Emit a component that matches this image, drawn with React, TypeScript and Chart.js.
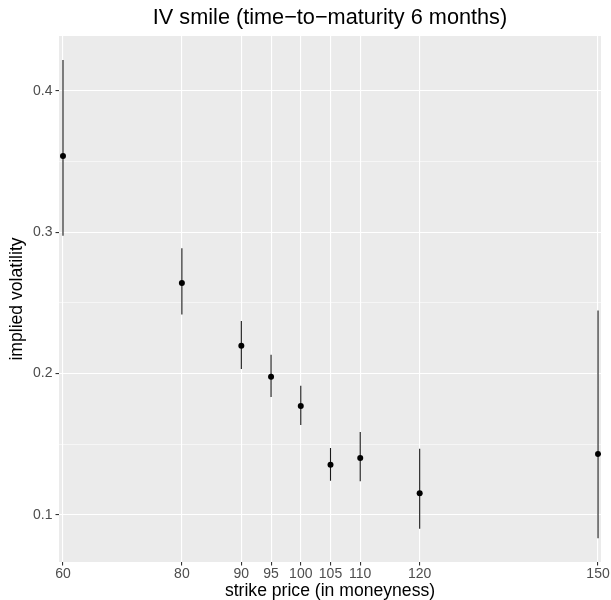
import React, { useEffect, useRef } from "react";
import { Chart, registerables } from "chart.js";

Chart.register(...registerables);

// Strikes (in moneyness) and the implied-volatility estimates with their intervals
const strikes = [60, 80, 90, 95, 100, 105, 110, 120, 150];
const ivMid = [0.354, 0.264, 0.2196, 0.1977, 0.1769, 0.1354, 0.1401, 0.1151, 0.143];
const ivLow = [0.2974, 0.2418, 0.2031, 0.1833, 0.1635, 0.1241, 0.1237, 0.0901, 0.0833];
const ivHigh = [0.4219, 0.2887, 0.2371, 0.2132, 0.1913, 0.1472, 0.1585, 0.1467, 0.2446];

const xTicks = [60, 80, 90, 95, 100, 105, 110, 120, 150];
const yTicks = [0.1, 0.2, 0.3, 0.4];
const yMinorTicks = [0.15, 0.25, 0.35];

const FONT = "'Liberation Sans', Arial, Helvetica, sans-serif";

const isMinor = (v: number) => yMinorTicks.some((m) => Math.abs(m - v) < 1e-9);

// Grey ggplot-style panel behind the grid
const panelBackground = {
  id: "panelBackground",
  beforeDraw(chart: any) {
    const { ctx, chartArea, width, height } = chart;
    ctx.save();
    ctx.fillStyle = "#ffffff";
    ctx.fillRect(0, 0, width, height);
    ctx.fillStyle = "#EBEBEB";
    ctx.fillRect(chartArea.left, chartArea.top, chartArea.right - chartArea.left, chartArea.bottom - chartArea.top);
    ctx.restore();
  },
};

export default function App() {
  const canvasRef = useRef<HTMLCanvasElement | null>(null);

  useEffect(() => {
    document.body.style.margin = "0";
    const canvas = canvasRef.current;
    if (!canvas) return;

    // Vertical interval segments, separated by gaps
    const bars: any[] = [];
    strikes.forEach((s, i) => {
      bars.push({ x: s, y: ivLow[i] });
      bars.push({ x: s, y: ivHigh[i] });
      bars.push({ x: s, y: null });
    });
    const points = strikes.map((s, i) => ({ x: s, y: ivMid[i] }));

    const chart = new Chart(canvas, {
      type: "scatter",
      data: {
        datasets: [
          {
            type: "line",
            data: bars,
            borderColor: "#1a1a1a",
            borderWidth: 1.1,
            pointRadius: 0,
            spanGaps: false,
            showLine: true,
            order: 2,
          } as any,
          {
            data: points,
            backgroundColor: "#000000",
            borderColor: "#000000",
            pointRadius: 3,
            borderWidth: 0,
            order: 1,
          },
        ],
      },
      options: {
        responsive: false,
        animation: false,
        layout: { padding: { left: 0, right: 10, top: 0, bottom: 0 } },
        plugins: {
          legend: { display: false },
          tooltip: { enabled: false },
          title: {
            display: true,
            fullSize: false,
            text: "IV smile (time\u2212to\u2212maturity 6 months)",
            color: "#000000",
            font: { family: FONT, size: 21.7, weight: "normal", lineHeight: 1.2 },
            padding: { top: 5, bottom: 4.96 },
          },
        },
        scales: {
          x: {
            type: "linear",
            min: 59.33,
            max: 150.5,
            afterBuildTicks: (scale: any) => {
              scale.ticks = xTicks.map((v) => ({ value: v }));
            },
            afterFit: (scale: any) => {
              scale.height = 38;
            },
            grid: {
              color: "#ffffff",
              lineWidth: 1.1,
              tickColor: "#333333",
              tickLength: 3.5,
            },
            border: { display: false },
            ticks: {
              autoSkip: false,
              maxRotation: 0,
              padding: 0,
              color: "#4D4D4D",
              font: { family: FONT, size: 14 },
              callback: (v: any) => String(v),
            },
            title: {
              display: true,
              text: "strike price (in moneyness)",
              color: "#000000",
              font: { family: FONT, size: 17.6, lineHeight: 1.0 },
              padding: { top: 0, bottom: 0 },
            },
          },
          y: {
            type: "linear",
            min: 0.0665,
            max: 0.4389,
            afterBuildTicks: (scale: any) => {
              scale.ticks = [...yTicks, ...yMinorTicks].sort((a, b) => a - b).map((v) => ({ value: v }));
            },
            afterFit: (scale: any) => {
              scale.width = 59;
            },
            grid: {
              color: "#ffffff",
              lineWidth: (c: any) => (c.tick && isMinor(c.tick.value) ? 0.55 : 1.1),
              tickColor: (c: any) => (c.tick && isMinor(c.tick.value) ? "rgba(0,0,0,0)" : "#333333"),
              tickLength: 3.5,
            },
            border: { display: false },
            ticks: {
              autoSkip: false,
              padding: 3,
              color: "#4D4D4D",
              font: { family: FONT, size: 14 },
              callback: (v: any) => (isMinor(Number(v)) ? "" : String(Number(v).toFixed(1))),
            },
            title: {
              display: true,
              text: "implied volatility",
              color: "#000000",
              font: { family: FONT, size: 17.6, lineHeight: 1.2 },
              padding: { top: 7, bottom: 0 },
            },
          },
        },
      },
      plugins: [panelBackground],
    });

    return () => chart.destroy();
  }, []);

  return <canvas ref={canvasRef} width={611} height={600} style={{ display: "block" }} />;
}
